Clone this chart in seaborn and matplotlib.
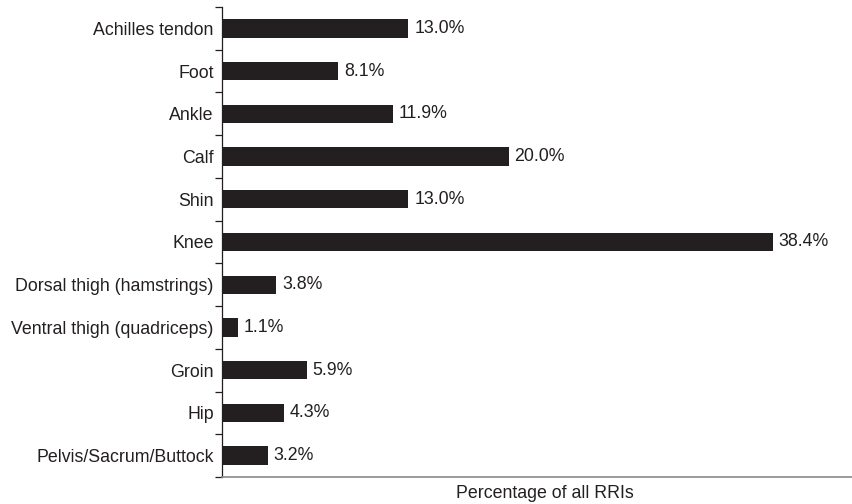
import numpy as np
import pandas as pd
import matplotlib
matplotlib.use("Agg")
import matplotlib.pyplot as plt
import seaborn as sns
from matplotlib.ticker import FixedLocator, NullLocator

# data
regions = ["Achilles tendon", "Foot", "Ankle", "Calf", "Shin", "Knee",
           "Dorsal thigh (hamstrings)", "Ventral thigh (quadriceps)",
           "Groin", "Hip", "Pelvis/Sacrum/Buttock"]
percent = [13.0, 8.1, 11.9, 20.0, 13.0, 38.4, 3.8, 1.1, 5.9, 4.3, 3.2]

df = pd.DataFrame({"region": regions, "percent": percent})

sns.set_theme(style="white")
plt.rcParams['font.family'] = ['Liberation Sans', 'DejaVu Sans']

fs = 12.8
txt = "#231f20"

fig = plt.figure(figsize=(8.53, 5.04), dpi=100)
ax = fig.add_axes([222 / 853, 1 - 477 / 504, (853 - 222) / 853, (477 - 7) / 504])

sns.barplot(data=df, x="percent", y="region", color="#231f20",
            width=0.43, edgecolor="none", saturation=1, ax=ax)

for i, v in enumerate(percent):
    ax.text(v + 0.4, i, f"{v:.1f}%", va="center", ha="left",
            fontsize=fs, color=txt)

ax.set_xlim(0, 44.0)
ax.set_ylim(len(regions) - 0.5, -0.5)
ax.xaxis.set_major_locator(NullLocator())
ax.set_ylabel("")
ax.set_xlabel("Percentage of all RRIs", fontsize=fs, color=txt)
ax.xaxis.set_label_coords((545 - 222) / (853 - 222), -0.017)
ax.xaxis.label.set_va("top")

ax.tick_params(axis="y", which="major", length=0, labelsize=fs,
               labelcolor=txt, pad=6)
ax.yaxis.set_minor_locator(FixedLocator(np.arange(-0.5, len(regions), 1.0)))
ax.tick_params(axis="y", which="minor", length=5, width=0.9,
               color="#231f20", left=True)

for s in ["top", "right"]:
    ax.spines[s].set_visible(False)
ax.spines["left"].set_color("#231f20")
ax.spines["left"].set_linewidth(0.9)
ax.spines["bottom"].set_color("#8a8a8a")
ax.spines["bottom"].set_linewidth(1.2)

fig.savefig("out.png", dpi=100)
